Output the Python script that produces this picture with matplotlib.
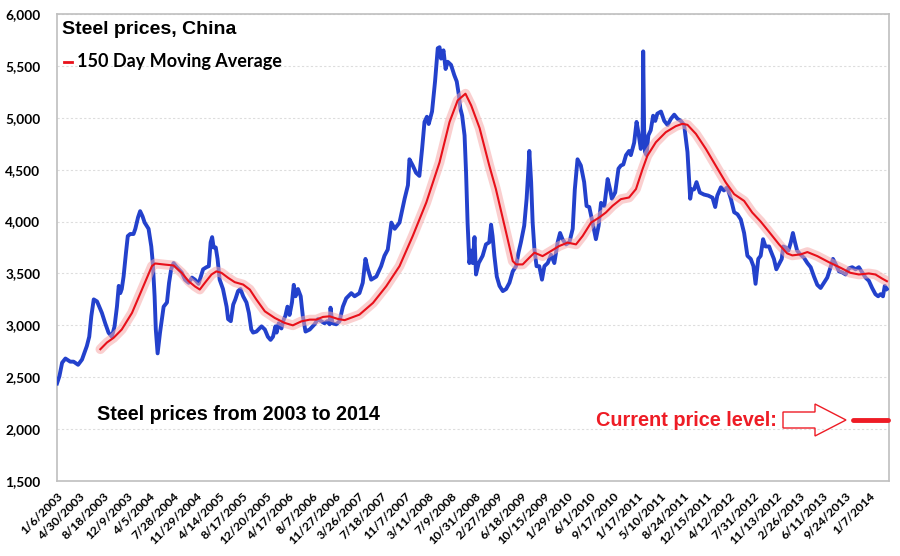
import matplotlib
matplotlib.use("Agg")
import matplotlib.pyplot as plt
from matplotlib.patches import Polygon
from matplotlib.lines import Line2D

# ---- data: trading-day index (since 1/6/2003) and price ----
price_day = [0, 8, 17, 28, 44, 55, 70, 83, 99, 107, 114, 122, 133, 149, 160, 171, 182, 191, 199, 205,
             210, 215, 221, 229, 235, 243, 254, 260, 269, 276, 284, 291, 304, 313, 318, 324, 328, 334, 342, 354,
             365, 372, 379, 387, 398, 414, 425, 437, 448, 458, 470, 485, 496, 504, 510, 515, 520, 527, 533, 540,
             551, 563, 568, 577, 585, 592, 601, 609, 618, 629, 637, 645, 651, 662, 679, 690, 700, 709, 717, 725,
             729, 736, 745, 753, 758, 765, 772, 780, 786, 792, 800, 809, 816, 825, 839, 855, 866, 877, 888, 897,
             905, 908, 914, 927, 938, 949, 960, 977, 988, 1004, 1015, 1024, 1032, 1043, 1060, 1076, 1087, 1098, 1110, 1121,
             1137, 1154, 1165, 1170, 1181, 1192, 1203, 1212, 1220, 1228, 1234, 1245, 1255, 1264, 1270, 1275, 1283, 1290, 1297, 1308,
             1319, 1327, 1334, 1339, 1345, 1353, 1358, 1363, 1369, 1375, 1380, 1386, 1391, 1400, 1413, 1424, 1435, 1441, 1446, 1452,
             1460, 1469, 1480, 1491, 1502, 1513, 1524, 1532, 1540, 1551, 1559, 1565, 1568, 1574, 1579, 1585, 1592, 1601, 1610, 1618,
             1629, 1640, 1651, 1662, 1670, 1678, 1690, 1701, 1712, 1719, 1728, 1739, 1750, 1758, 1767, 1778, 1789, 1798, 1806, 1817,
             1828, 1836, 1842, 1853, 1864, 1872, 1880, 1889, 1899, 1905, 1916, 1924, 1930, 1938, 1944, 1946, 1949, 1952, 1957, 1963,
             1971, 1979, 1986, 1993, 2005, 2016, 2027, 2038, 2049, 2060, 2071, 2082, 2093, 2098, 2102, 2107, 2115, 2123, 2134, 2148,
             2162, 2176, 2185, 2192, 2204, 2214, 2225, 2237, 2248, 2259, 2270, 2281, 2292, 2303, 2312, 2319, 2328, 2336, 2344, 2352,
             2364, 2369, 2380, 2388, 2397, 2406, 2411, 2419, 2428, 2436, 2443, 2450, 2457, 2469, 2480, 2491, 2502, 2513, 2524, 2535,
             2546, 2557, 2568, 2576, 2585, 2596, 2607, 2618, 2629, 2640, 2651, 2662, 2673, 2684, 2695, 2706, 2717, 2726, 2734, 2742,
             2748, 2755]
price = [2440, 2510, 2640, 2680, 2650, 2650, 2620, 2670, 2800, 2890, 3090, 3250, 3230, 3120, 3020, 2930, 2890, 2990, 3180, 3380,
         3310, 3350, 3470, 3700, 3860, 3880, 3880, 3930, 4040, 4100, 4050, 3990, 3930, 3760, 3600, 3280, 2960, 2730, 2930, 3180,
         3220, 3410, 3540, 3600, 3560, 3510, 3440, 3410, 3460, 3440, 3400, 3540, 3560, 3570, 3800, 3850, 3750, 3750, 3640, 3440,
         3350, 3180, 3060, 3040, 3200, 3250, 3330, 3350, 3280, 3220, 3120, 2960, 2930, 2940, 2990, 2960, 2890, 2860, 2890, 2990,
         2930, 3020, 2970, 3060, 3090, 3180, 3100, 3220, 3390, 3280, 3350, 3280, 3090, 2940, 2960, 3010, 3060, 3040, 3020, 3040,
         3010, 3170, 3020, 3010, 3040, 3180, 3260, 3310, 3280, 3310, 3410, 3640, 3540, 3440, 3470, 3570, 3670, 3730, 3990, 3930,
         3990, 4220, 4350, 4600, 4540, 4470, 4440, 4700, 4960, 5010, 4940, 5060, 5350, 5670, 5680, 5570, 5650, 5470, 5540, 5510,
         5410, 5350, 5220, 5090, 5020, 4830, 4470, 3990, 3600, 3720, 3600, 3850, 3490, 3600, 3670, 3780, 3800, 3970, 3860, 3670,
         3470, 3380, 3330, 3350, 3410, 3520, 3570, 3700, 3800, 3960, 4220, 4510, 4680, 4380, 3990, 3730, 3570, 3570, 3440, 3570,
         3600, 3680, 3600, 3800, 3890, 3830, 3780, 3800, 3930, 4310, 4600, 4540, 4380, 4150, 4140, 3990, 3830, 3960, 4180, 4150,
         4410, 4310, 4220, 4280, 4510, 4540, 4550, 4640, 4680, 4640, 4760, 4960, 4860, 4700, 4800, 5640, 4900, 4670, 4640, 4830,
         4880, 5020, 4970, 5040, 5060, 4970, 4930, 4990, 5030, 4990, 4970, 4930, 4670, 4410, 4220, 4310, 4310, 4380, 4280, 4260,
         4250, 4230, 4140, 4250, 4330, 4300, 4330, 4220, 4090, 4070, 4020, 3890, 3670, 3640, 3570, 3400, 3640, 3670, 3830, 3760,
         3760, 3720, 3640, 3540, 3590, 3640, 3760, 3750, 3720, 3800, 3890, 3800, 3720, 3680, 3650, 3600, 3560, 3470, 3390, 3360,
         3410, 3460, 3560, 3640, 3590, 3520, 3510, 3490, 3550, 3560, 3540, 3560, 3510, 3460, 3430, 3360, 3300, 3280, 3300, 3280,
         3380, 3350]

ma_day = [144, 166, 188, 215, 249, 282, 315, 326, 359, 387, 414, 437, 458, 474, 491, 513, 529, 546, 568, 590,
          618, 640, 662, 690, 723, 756, 783, 811, 839, 861, 883, 905, 933, 955, 1004, 1049, 1093, 1137, 1181, 1226,
          1270, 1303, 1330, 1356, 1375, 1403, 1435, 1457, 1491, 1513, 1524, 1546, 1568, 1585, 1612, 1640, 1667, 1695, 1723, 1745,
          1773, 1800, 1822, 1844, 1872, 1899, 1922, 1944, 1960, 1988, 2021, 2054, 2076, 2093, 2121, 2154, 2187, 2220, 2248, 2281,
          2308, 2336, 2364, 2397, 2424, 2441, 2469, 2491, 2524, 2562, 2601, 2634, 2662, 2695, 2717, 2739, 2755]
ma_150 = [2770, 2835, 2880, 2960, 3120, 3345, 3570, 3596, 3585, 3577, 3506, 3425, 3375, 3345, 3410, 3490, 3520, 3506, 3458, 3416,
          3393, 3345, 3248, 3135, 3071, 3023, 3000, 3038, 3055, 3055, 3081, 3087, 3061, 3050, 3103, 3216, 3377, 3570, 3861, 4184,
          4571, 4958, 5167, 5232, 5119, 4900, 4540, 4313, 3894, 3619, 3587, 3587, 3652, 3700, 3667, 3716, 3764, 3797, 3780, 3861,
          3990, 4039, 4087, 4151, 4216, 4232, 4313, 4506, 4635, 4764, 4861, 4919, 4942, 4932, 4845, 4700, 4538, 4377, 4264, 4199,
          4087, 4000, 3900, 3780, 3693, 3674, 3684, 3706, 3667, 3609, 3555, 3506, 3490, 3500, 3490, 3451, 3425]

tick_labels = ["1/6/2003", "4/30/2003", "8/18/2003", "12/9/2003", "4/5/2004", "7/28/2004", "11/29/2004",
               "4/14/2005", "8/17/2005", "12/20/2005", "4/17/2006", "8/7/2006", "11/27/2006", "3/26/2007",
               "7/18/2007", "11/7/2007", "3/11/2008", "7/9/2008", "10/31/2008", "2/27/2009", "6/18/2009",
               "10/15/2009", "1/29/2010", "6/1/2010", "9/17/2010", "1/17/2011", "5/10/2011", "8/24/2011",
               "12/15/2011", "4/12/2012", "7/31/2012", "11/13/2012", "2/26/2013", "6/11/2013", "9/24/2013",
               "1/7/2014"]
days_per_label = 77
y_ticks = [1500, 2000, 2500, 3000, 3500, 4000, 4500, 5000, 5500, 6000]

# ---- figure ----
W, H = 900, 556
fig = plt.figure(figsize=(W / 100, H / 100), dpi=100)
ax = fig.add_axes([57 / W, 1 - 481 / H, (889 - 57) / W, (481 - 14) / H])

ax.plot(price_day, price, color="#2341CC", lw=2.8, solid_joinstyle="round", zorder=3)
ax.plot(ma_day, ma_150, color="#F7A8A8", lw=7, alpha=0.55, solid_capstyle="round", zorder=4)
ax.plot(ma_day, ma_150, color="#E8101A", lw=1.5, zorder=5)

ax.set_xlim(0, 2762)
ax.set_ylim(1500, 6000)
ax.set_yticks(y_ticks)
ax.set_yticklabels([f"{v:,}" for v in y_ticks], fontfamily="Lato", fontweight="bold", fontsize=9.8)
ax.set_xticks([i * days_per_label for i in range(len(tick_labels))])
ax.set_xticklabels(tick_labels, rotation=45, ha="right", rotation_mode="anchor",
                   fontfamily="Lato", fontweight="bold", fontsize=8.8)
ax.tick_params(axis="both", length=0)
ax.tick_params(axis="y", pad=12)
ax.tick_params(axis="x", pad=7)
ax.grid(axis="y", color="#DDDDDD", lw=0.8, ls=(0, (2, 2)))
ax.set_axisbelow(True)
for s in ax.spines.values():
    s.set_color("#BFBFBF")
    s.set_linewidth(1.2)

# ---- annotations ----
fig.text(62 / W, 1 - 29 / H, "Steel prices, China", fontfamily="Liberation Sans", fontweight="bold",
         fontsize=14, va="center", ha="left")
fig.add_artist(Line2D([64 / W, 72 / W], [1 - 62 / H, 1 - 62 / H], color="#E8101A", lw=2,
                      transform=fig.transFigure))
fig.text(77 / W, 1 - 61 / H, "150 Day Moving Average", fontfamily="Lato", fontweight="bold",
         fontsize=13.0, va="center", ha="left")
fig.text(97 / W, 1 - 414 / H, "Steel prices from 2003 to 2014", fontfamily="Liberation Sans",
         fontweight="bold", fontsize=14.2, va="center", ha="left")
fig.text(596 / W, 1 - 420 / H, "Current price level:", color="#EE1C25", fontfamily="Liberation Sans",
         fontweight="bold", fontsize=14.3, va="center", ha="left")

arrow_px = [(783, 412), (815, 412), (815, 404), (846, 420), (815, 436), (815, 428), (783, 428)]
fig.add_artist(Polygon([(x / W, 1 - y / H) for x, y in arrow_px], closed=True, fill=False,
                       edgecolor="#EE1C25", lw=1.0, transform=fig.transFigure))
fig.add_artist(Line2D([853 / W, 888 / W], [1 - 420 / H, 1 - 420 / H], color="#EE1C25", lw=3.5,
                      solid_capstyle="round", transform=fig.transFigure))

fig.savefig("out.png", dpi=100)
